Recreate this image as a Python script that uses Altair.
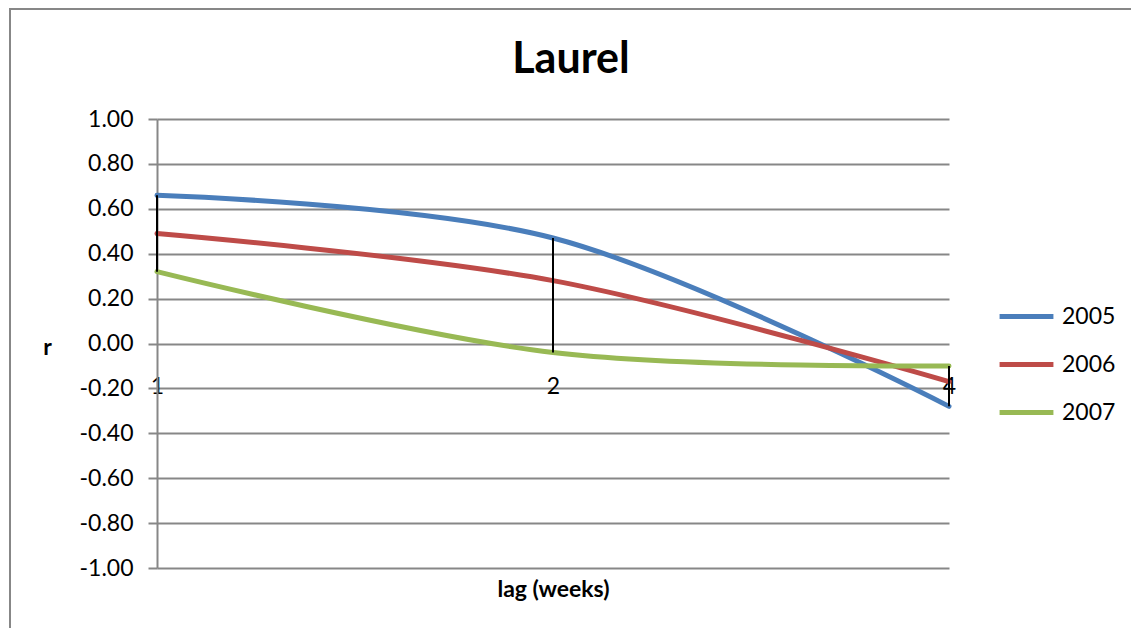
import altair as alt
import pandas as pd

lags = ["1", "2", "4"]
r2005 = [0.66, 0.47, -0.28]
r2006 = [0.49, 0.28, -0.17]
r2007 = [0.32, -0.04, -0.10]
series_names = ["2005", "2006", "2007"]
colors = ["#4A7EBB", "#BE4B48", "#98B954"]
y_ticks = [-1.0, -0.8, -0.6, -0.4, -0.2, 0.0, 0.2, 0.4, 0.6, 0.8, 1.0]

rows = []
for name, vals in zip(series_names, [r2005, r2006, r2007]):
    for lag, v in zip(lags, vals):
        rows.append({"lag": lag, "r": v, "year": name})
df = pd.DataFrame(rows)

FONT = "Lato"
FS = 23

x_enc = alt.X(
    "lag:O",
    scale=alt.Scale(domain=lags, type="point", padding=0),
    axis=alt.Axis(
        title="lag (weeks)",
        titleFont=FONT, titleFontSize=FS, titleFontWeight="bold", titleColor="black",
        labelFont=FONT, labelFontSize=FS, labelColor="black", labelAngle=0,
        labelPadding=32, titlePadding=180,
        domain=False, ticks=False, grid=False, offset=-225,
    ),
)
y_enc = alt.Y(
    "r:Q",
    scale=alt.Scale(domain=[-1, 1], nice=False),
    axis=alt.Axis(
        values=y_ticks, format=".2f",
        labelExpr="replace(datum.label, '\u2212', '-')",
        title="r", titleAngle=0, titleFont=FONT, titleFontSize=FS, titleFontWeight="bold",
        titleColor="black", titleX=-110, titleY=228, titleAlign="center", titleBaseline="middle",
        labelFont=FONT, labelFontSize=FS, labelColor="black", labelPadding=15,
        domain=True, domainColor="#878787", domainWidth=2,
        ticks=True, tickColor="#878787", tickWidth=2, tickSize=9,
        grid=True, gridColor="#878787", gridWidth=2,
    ),
)

lines = alt.Chart(df).mark_line(
    interpolate="catmull-rom", strokeWidth=5, strokeCap="round"
).encode(
    x=x_enc,
    y=y_enc,
    color=alt.Color(
        "year:N",
        scale=alt.Scale(domain=series_names, range=colors),
        legend=alt.Legend(
            title=None, orient="none", legendX=840, legendY=168,
            symbolType="stroke", symbolStrokeWidth=5, symbolSize=2900,
            labelFont=FONT, labelFontSize=FS, labelColor="black",
            rowPadding=6, labelOffset=6,
        ),
    ),
)

hilo = alt.Chart(df).mark_rule(color="black", strokeWidth=2).encode(
    x=alt.X("lag:O", scale=alt.Scale(domain=lags, type="point", padding=0)),
    y=alt.Y("min(r):Q"),
    y2=alt.Y2("max(r):Q"),
)

frame = alt.Chart(pd.DataFrame({"a": [0]})).mark_rect(
    fill=None, stroke="#878787", strokeWidth=2
).encode(
    x=alt.value(-147), x2=alt.value(977),
    y=alt.value(-110), y2=alt.value(560),
)

chart = alt.layer(frame, lines, hilo).properties(
    width=792, height=449,
    title=alt.TitleParams(
        "Laurel", font=FONT, fontSize=43, fontWeight="bold", color="black",
        anchor="middle", dx=18, offset=-108, baseline="alphabetic",
    ),
    autosize=alt.AutoSizeParams(type="none"),
    padding={"left": 149, "top": 111, "right": 182, "bottom": 60},
).configure_view(stroke=None)

chart.save("out.html", embed_options={"renderer": "svg", "actions": False})
